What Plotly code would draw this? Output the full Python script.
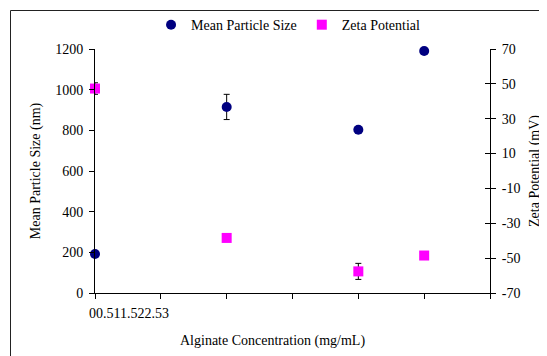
import plotly.graph_objects as go

conc = [0, 1, 2, 2.5]
particle_size = [192, 915, 803, 1190]
particle_err = [0, 62, 0, 15]
zeta = [47.3, -38.4, -57.6, -48.5]
zeta_err = [3.3, 0, 4.6, 0]

x_ticks = [0, 0.5, 1, 1.5, 2, 2.5, 3]
left_ticks = [0, 200, 400, 600, 800, 1000, 1200]
right_ticks = [-70, -50, -30, -10, 10, 30, 50, 70]
right_tick_text = ["-70", "-50", "-30", "-10", "10", "30", "50", "70"]

FONT = "Liberation Serif"
FS = 14

fig = go.Figure()
fig.add_trace(go.Scatter(
    x=conc, y=particle_size, mode="markers", name="Mean Particle Size",
    marker=dict(symbol="circle", size=10, color="#000080"),
    error_y=dict(type="data", array=particle_err, color="black", thickness=1, width=3),
    cliponaxis=False, yaxis="y"))
fig.add_trace(go.Scatter(
    x=conc, y=zeta, mode="markers", name="Zeta Potential",
    marker=dict(symbol="square", size=10, color="#FF00FF"),
    error_y=dict(type="data", array=zeta_err, color="black", thickness=1, width=3),
    cliponaxis=False, yaxis="y2"))
# dummy trace to activate yaxis3 (crossing ticks on right axis)
fig.add_trace(go.Scatter(x=[None], y=[None], yaxis="y3", showlegend=False, hoverinfo="skip"))

# the page body adds an 8px offset, so the figure is 8px smaller and margins shifted
fig.update_layout(
    width=539, height=348,
    margin=dict(l=87, r=57, t=41, b=63, autoexpand=False),
    paper_bgcolor="white", plot_bgcolor="white",
    font=dict(family=FONT, size=FS, color="black"),
    showlegend=True,
    legend=dict(orientation="h", x=0.49, xanchor="center", y=1.098, yanchor="middle",
                font=dict(family=FONT, size=FS), bgcolor="rgba(0,0,0,0)",
                itemwidth=30),
    xaxis=dict(range=[0, 3], tickvals=x_ticks, showticklabels=False, ticks="outside",
               ticklen=5, tickcolor="black", showline=True, linecolor="black", linewidth=1,
               showgrid=False, zeroline=False, automargin=False),
    yaxis=dict(range=[0, 1200], tickvals=left_ticks, ticks="outside", ticklen=5,
               tickcolor="black", showline=True, linecolor="black", linewidth=1,
               showgrid=False, zeroline=False, automargin=False, ticklabelstandoff=3,
               title=dict(text="Mean Particle Size (nm)", font=dict(family=FONT, size=FS), standoff=11)),
    yaxis2=dict(range=[-70, 70], tickvals=right_ticks, ticktext=right_tick_text,
                overlaying="y", side="right",
                ticks="outside", ticklen=5, tickcolor="black", showline=True,
                linecolor="black", linewidth=1, showgrid=False, zeroline=False, automargin=False,
                ticklabelstandoff=3,
                title=dict(text="Zeta Potential (mV)", font=dict(family=FONT, size=FS), standoff=9)),
    yaxis3=dict(range=[-70, 70], tickvals=right_ticks, overlaying="y", side="right",
                ticks="inside", ticklen=5, tickcolor="black", showticklabels=False,
                showline=False, showgrid=False, zeroline=False, automargin=False),
)

fig.add_annotation(text="00.511.522.53", xref="paper", yref="paper",
                   x=(87 - 95) / 395, y=(293 - 313) / 244, xanchor="left", yanchor="middle",
                   showarrow=False, font=dict(family=FONT, size=FS))
fig.add_annotation(text="Alginate Concentration (mg/mL)", xref="paper", yref="paper",
                   x=(272 - 95) / 395, y=(293 - 341) / 244, xanchor="center", yanchor="middle",
                   showarrow=False, font=dict(family=FONT, size=FS))

fig.add_shape(type="rect", xref="paper", yref="paper",
              x0=(10.5 - 95) / 395, x1=(560 - 95) / 395,
              y0=(293 - 370) / 244, y1=(293 - 10.5) / 244,
              line=dict(color="#222222", width=1), fillcolor="rgba(0,0,0,0)", layer="below")

fig.write_html("out.html")
